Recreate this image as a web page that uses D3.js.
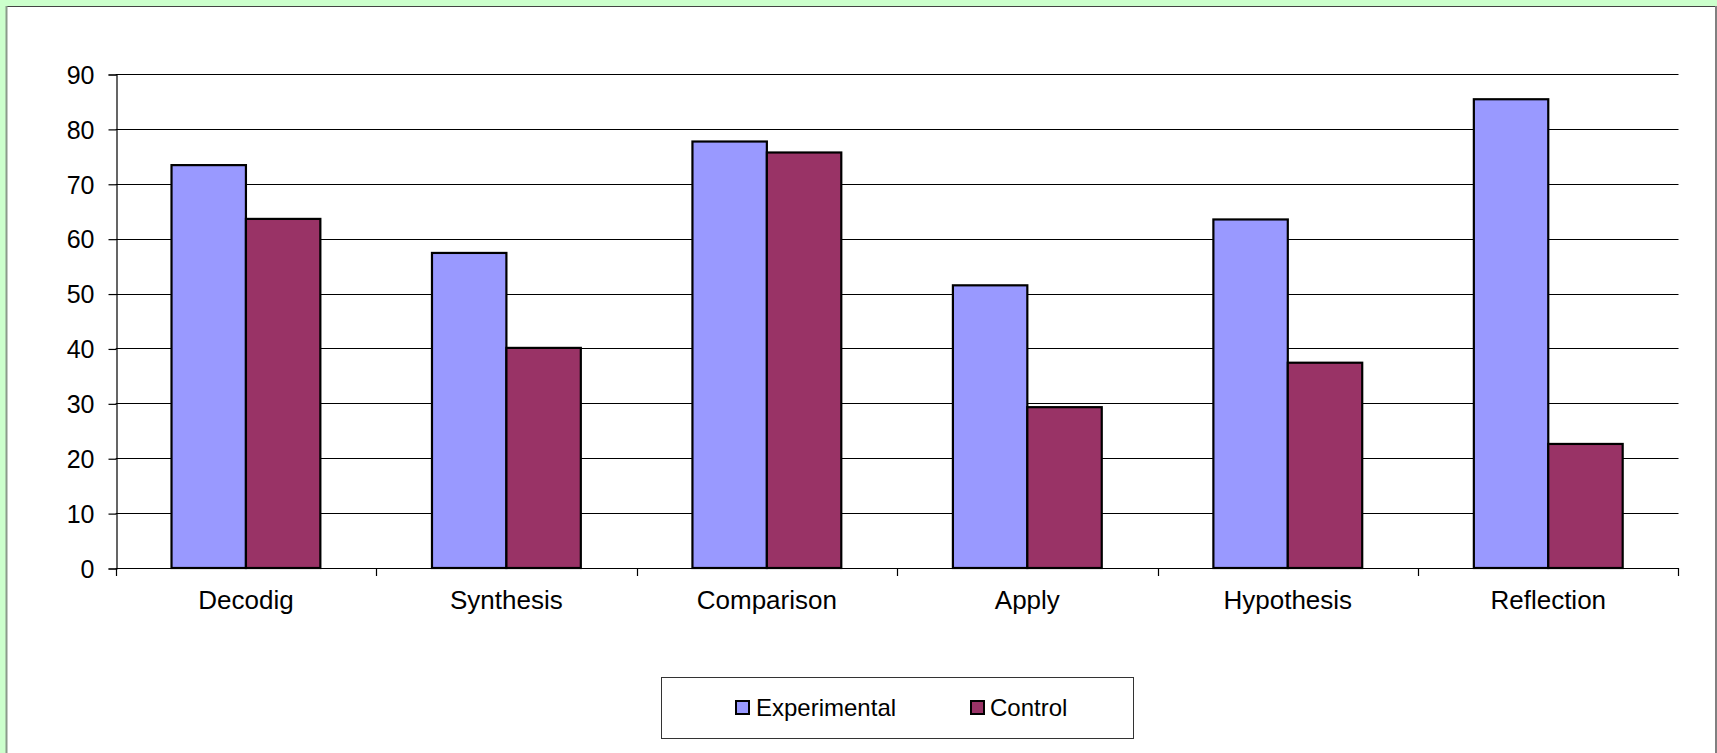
<!DOCTYPE html>
<html>
<head>
<meta charset="utf-8">
<script src="https://cdn.jsdelivr.net/npm/d3@7"></script>
<style>
  html, body { margin: 0; padding: 0; background: #CCFFCC; }
  svg { display: block; }
  text { font-family: "Liberation Sans", Arial, sans-serif; fill: #000; }
</style>
</head>
<body>
<script>
const categories = ["Decodig", "Synthesis", "Comparison", "Apply", "Hypothesis", "Reflection"];
const seriesNames = ["Experimental", "Control"];
const experimental = [73.4, 57.4, 77.7, 51.5, 63.5, 85.4];
const control = [63.6, 40.1, 75.7, 29.3, 37.4, 22.6];
const yTicks = [0, 10, 20, 30, 40, 50, 60, 70, 80, 90];
const seriesColors = ["#9999FF", "#993366"];

const W = 1717, H = 753;
const svg = d3.select("body").append("svg").attr("width", W).attr("height", H);

// background / panel
svg.append("rect").attr("x", 0).attr("y", 0).attr("width", W).attr("height", H).attr("fill", "#CCFFCC");
svg.append("rect").attr("x", 6).attr("y", 6).attr("width", 1709).attr("height", 760).attr("fill", "#fff");
svg.append("line").attr("x1", 6).attr("x2", 1716).attr("y1", 6.5).attr("y2", 6.5).attr("stroke", "#444").attr("stroke-width", 1);
svg.append("line").attr("x1", 6.5).attr("x2", 6.5).attr("y1", 6).attr("y2", H).attr("stroke", "#8a9a8a").attr("stroke-width", 2);
svg.append("line").attr("x1", 1716).attr("x2", 1716).attr("y1", 6).attr("y2", H).attr("stroke", "#808080").attr("stroke-width", 2);

const plotL = 115.7, plotR = 1678.5, plotT = 74, plotB = 568;

const x0 = d3.scaleBand().domain(categories).range([plotL, plotR]).paddingInner(0).paddingOuter(0);
const x1 = d3.scaleBand().domain(seriesNames).range([0, x0.bandwidth()]).paddingInner(0).paddingOuter(0.75);
const y = d3.scaleLinear().domain([0, 90]).range([plotB, plotT]);

// gridlines
svg.append("g").selectAll("line").data(yTicks.filter(d => d > 0)).join("line")
  .attr("x1", plotL).attr("x2", plotR)
  .attr("y1", d => Math.round(y(d)) + 0.5).attr("y2", d => Math.round(y(d)) + 0.5)
  .attr("stroke", "#000").attr("stroke-width", 1.2);

// y axis
const yAxis = d3.axisLeft(y).tickValues(yTicks).tickSize(8).tickPadding(14).tickFormat(d3.format("d"));
const gy = svg.append("g").attr("transform", `translate(${Math.round(plotL) + 0.5},0.5)`).call(yAxis);
gy.select(".domain").attr("stroke", "#000").attr("stroke-width", 1.2);
gy.selectAll(".tick line").attr("stroke", "#000").attr("stroke-width", 1.2);
gy.selectAll(".tick text").attr("font-size", 25).attr("font-family", "Liberation Sans, Arial, sans-serif").attr("fill", "#000").attr("dy", "0.35em");

// bars
const data = categories.map((c, i) => ({ cat: c, vals: [experimental[i], control[i]] }));
const groups = svg.append("g").selectAll("g").data(data).join("g")
  .attr("transform", d => `translate(${x0(d.cat)},0)`);
groups.selectAll("rect").data(d => d.vals.map((v, j) => ({ v, s: seriesNames[j], j }))).join("rect")
  .attr("x", d => x1(d.s))
  .attr("y", d => y(d.v))
  .attr("width", x1.bandwidth())
  .attr("height", d => y(0) - y(d.v))
  .attr("fill", d => seriesColors[d.j])
  .attr("stroke", "#000").attr("stroke-width", 2.2);

// x axis
const xTickPositions = d3.range(categories.length + 1).map(i => plotL + i * x0.step());
const gx = svg.append("g");
gx.append("line").attr("x1", plotL).attr("x2", plotR).attr("y1", plotB + 0.5).attr("y2", plotB + 0.5)
  .attr("stroke", "#000").attr("stroke-width", 1.2);
gx.selectAll("line.tk").data(xTickPositions).join("line").attr("class", "tk")
  .attr("x1", d => Math.round(d) + 0.5).attr("x2", d => Math.round(d) + 0.5)
  .attr("y1", plotB).attr("y2", plotB + 8).attr("stroke", "#000").attr("stroke-width", 1.2);
gx.selectAll("text").data(categories).join("text")
  .attr("x", d => x0(d) + x0.bandwidth() / 2)
  .attr("y", 609)
  .attr("text-anchor", "middle")
  .attr("font-size", 26)
  .text(d => d);

// legend
const lg = svg.append("g");
lg.append("rect").attr("x", 661.5).attr("y", 677.5).attr("width", 472).attr("height", 61)
  .attr("fill", "#fff").attr("stroke", "#333").attr("stroke-width", 1);
const legendItems = [
  { name: seriesNames[0], color: seriesColors[0], sx: 736, tx: 756 },
  { name: seriesNames[1], color: seriesColors[1], sx: 971, tx: 990 }
];
legendItems.forEach(it => {
  lg.append("rect").attr("x", it.sx).attr("y", 701).attr("width", 13).attr("height", 13)
    .attr("fill", it.color).attr("stroke", "#000").attr("stroke-width", 2);
  lg.append("text").attr("x", it.tx).attr("y", 716).attr("font-size", 24).text(it.name);
});
</script>
</body>
</html>
